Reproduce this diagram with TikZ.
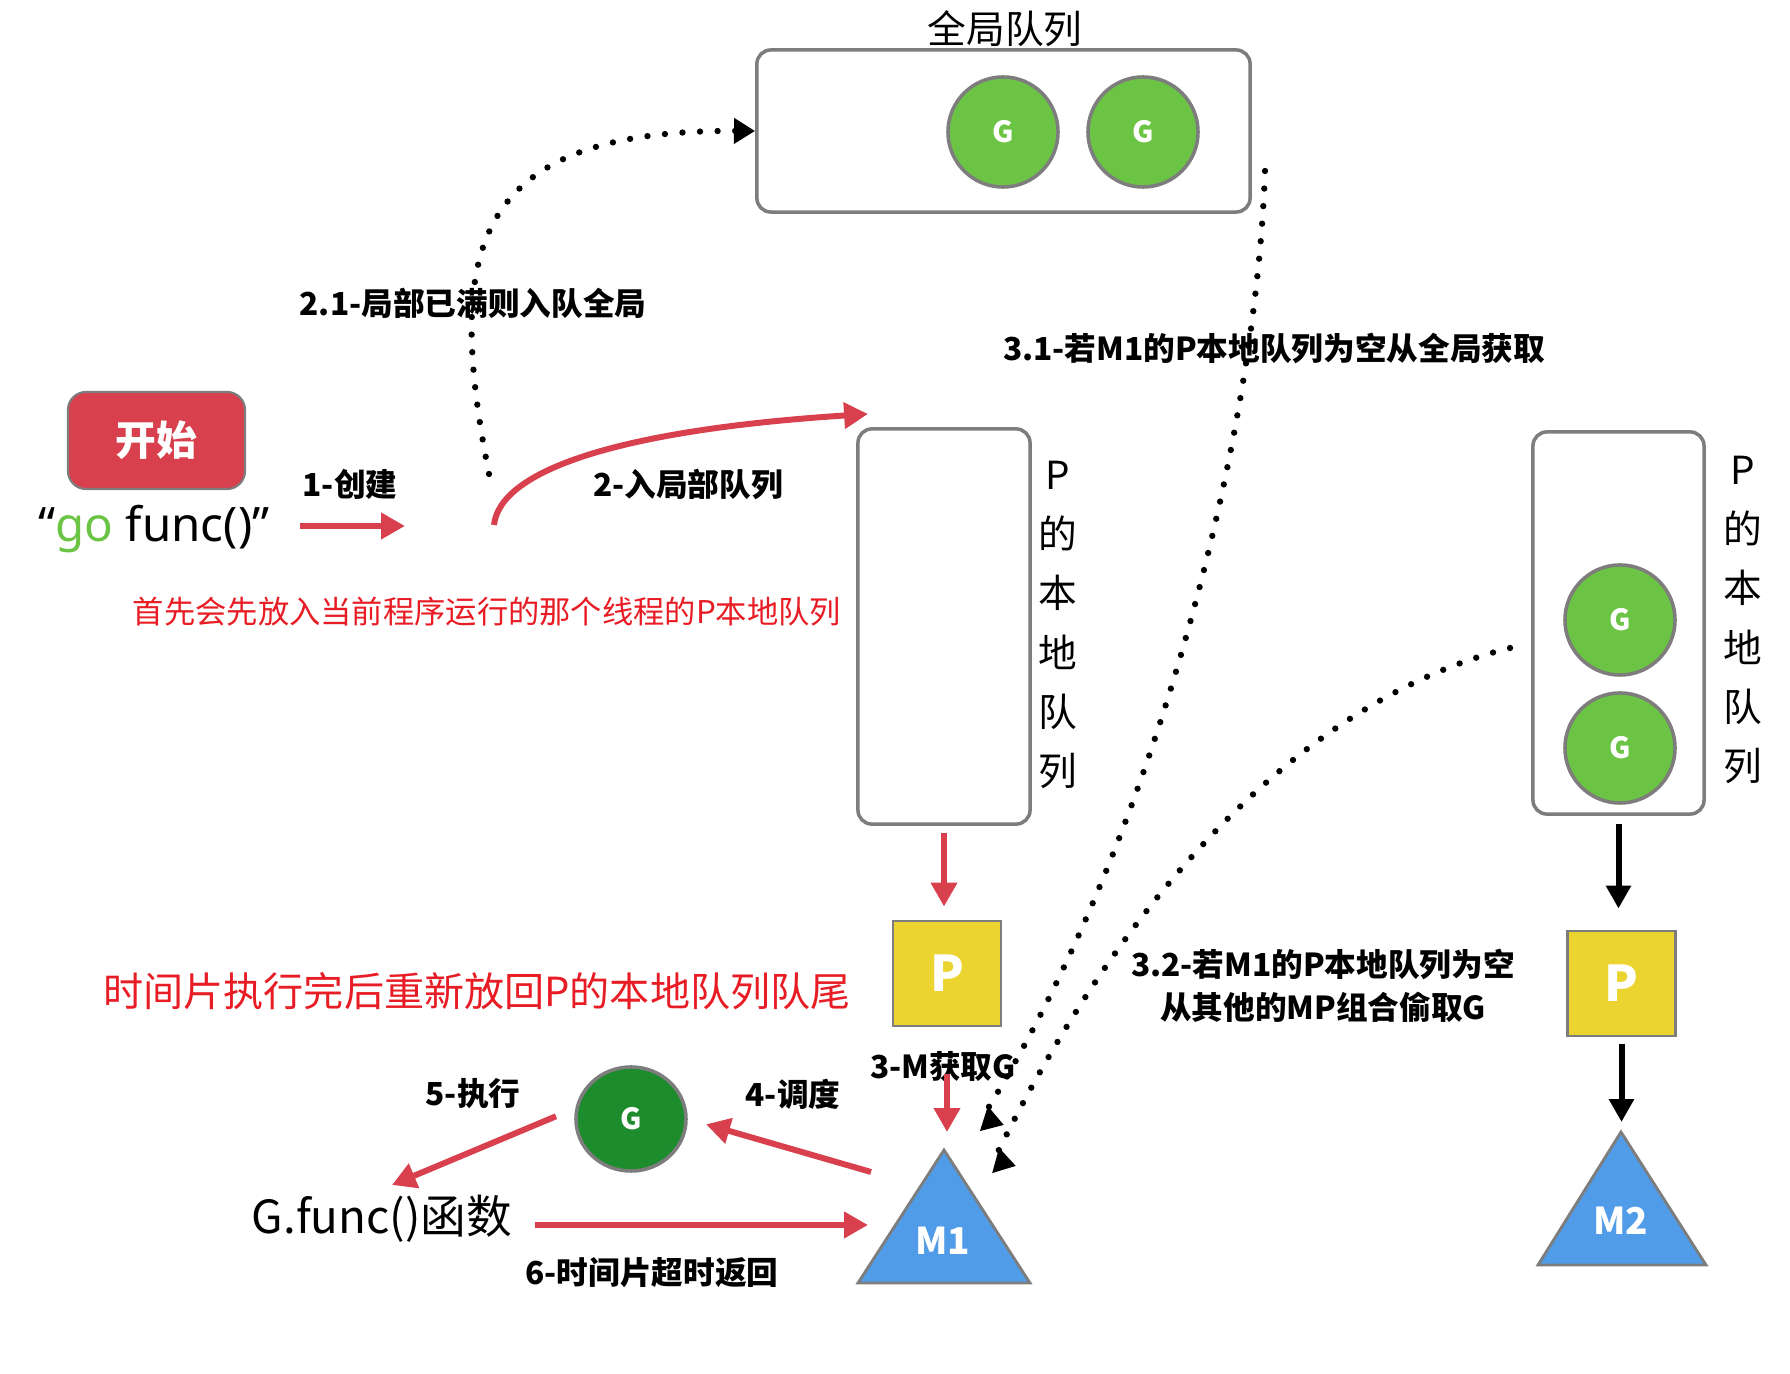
\documentclass[tikz,border=0pt]{standalone}
\usepackage{fontspec}
\setmainfont{Noto Sans CJK SC}
\newfontfamily\codefont{Noto Sans}
\usepackage{tikz}
\usetikzlibrary{positioning,arrows.meta,shapes.geometric}
\definecolor{rouge}{RGB}{216,64,78}
\definecolor{rougetxt}{RGB}{232,28,36}
\definecolor{vertclair}{RGB}{108,196,68}
\definecolor{vertfonce}{RGB}{28,140,44}
\definecolor{jaune}{RGB}{236,212,48}
\definecolor{bleu}{RGB}{80,156,232}
\definecolor{trait}{RGB}{125,125,125}

\begin{document}
\begin{tikzpicture}[x=0.01cm, y=-0.01cm, font=\fontsize{9}{11}\selectfont\bfseries,
  queue/.style={draw=trait, line width=1pt, rounded corners=0.14cm, fill=white},
  gnode/.style={circle, draw=trait, line width=1pt, fill=vertclair, minimum size=1.1cm,
    text=white, font=\fontsize{8.3}{9}\selectfont\bfseries},
  pnode/.style={draw=trait, line width=0.8pt, fill=jaune, minimum width=1.08cm,
    minimum height=1.05cm, text=white, font=\fontsize{14}{15}\selectfont\bfseries},
  mtri/.style={draw=trait, line width=0.8pt, fill=bleu},
  mlab/.style={text=white, font=\fontsize{10.5}{12}\selectfont\bfseries},
  vlab/.style={align=center, font=\fontsize{11}{16.8}\selectfont},
  redarr/.style={draw=rouge, line width=1.7pt, -{Triangle[length=6.8pt,width=7.2pt]}},
  blkarr/.style={draw=black, line width=1.7pt, -{Triangle[length=6.5pt,width=6.8pt]}},
  dotarr/.style={line width=1.8pt, line cap=round, dash pattern=on 0pt off 5pt,
    -{Triangle[length=6pt,width=7pt]}},
  note/.style={text=rougetxt, font=\fontsize{8.9}{10}\selectfont}]
\useasboundingbox (0,0) rectangle (1790,1374);

\node[queue, minimum width=4.93cm, minimum height=1.62cm] (glob) at (1003.5,131) {};
\node[font=\fontsize{11}{13}\selectfont] (globlab) at (1005,29) {全局队列};
\foreach \x [count=\i] in {1003,1143}
  \node[gnode] (gq\i) at (\x,132) {G};

\node[queue, minimum width=1.72cm, minimum height=3.95cm] (lq1) at (944,626.5) {};
\node[vlab] (lq1lab) at (1058,625) {P\\的\\本\\地\\队\\列};
\node[queue, minimum width=1.71cm, minimum height=3.82cm] (lq2) at (1618.5,623) {};
\node[vlab] (lq2lab) at (1743,620) {P\\的\\本\\地\\队\\列};
\foreach \y [count=\i] in {620,748}
  \node[gnode] (lg\i) at (1620,\y) {G};

\node[pnode] (p1) at (947,973.5) {P};
\node[pnode] (p2) at (1621.5,983.5) {P};

\coordinate (m1top) at (944,1150);
\filldraw[mtri] (m1top) -- (1030,1283) -- (858,1283) -- cycle;
\node[mlab] (m1) at (943,1241) {M1};
\coordinate (m2top) at (1621,1132);
\filldraw[mtri] (m2top) -- (1706,1265) -- (1538,1265) -- cycle;
\node[mlab] (m2) at (1621,1221) {M2};

\node[draw=trait, line width=0.6pt, fill=rouge, rounded corners=0.18cm, minimum width=1.77cm,
  minimum height=0.97cm, text=white, font=\fontsize{11.6}{13}\selectfont\bfseries] (start) at (156.5,440.5) {开始};
\node[font=\codefont\fontsize{13.5}{15}\selectfont] (gofunc) at (154,529) {“{\color{vertclair}go} func()”};

\node[ellipse, draw=trait, line width=1pt, fill=vertfonce, minimum width=1.1cm, minimum height=1.04cm,
  text=white, font=\fontsize{8.3}{9}\selectfont\bfseries] (grun) at (631,1119) {G};
\node[font=\fontsize{13}{15}\selectfont] (gfunc) at (382,1219) {G.func()函数};

\node (lab1) at (350,484) {1-创建};
\node (lab2) at (688,484) {2-入局部队列};
\node (lab21) at (473,303) {2.1-局部已满则入队全局};
\node (lab31) at (1274,348) {3.1-若M1的P本地队列为空从全局获取};
\node[align=center, font=\fontsize{9}{12.2}\selectfont\bfseries] (lab32) at (1323,986)
  {3.2-若M1的P本地队列为空\\从其他的MP组合偷取G};
\node (lab3) at (943,1067) {3-M获取G};
\node (lab4) at (793,1094) {4-调度};
\node (lab5) at (473,1094) {5-执行};
\node (lab6) at (652,1273) {6-时间片超时返回};
\node[note] (note1) at (487,612) {首先会先放入当前程序运行的那个线程的P本地队列};
\node[note, font=\fontsize{11.4}{13}\selectfont] (note2) at (477,991) {时间片执行完后重新放回P的本地队列队尾};

\coordinate (c1) at (405,526);
\coordinate (q0) at (494,525);
\coordinate (q1) at (868,414);
\coordinate (d21) at (489,474);
\coordinate (d31) at (1265,171);
\coordinate (d31k) at (982,1118);
\coordinate (d31e) at (1004,1125);
\coordinate (d32) at (1510,648);
\coordinate (d32k) at (994,1160);
\coordinate (d32e) at (1016,1166);
\coordinate (c4) at (871,1172);
\coordinate (c5) at (392,1185);
\coordinate (c6) at (868,1225);

\draw[redarr, shorten <=0.18cm] (gofunc.east |- c1) -- (c1);
\draw[redarr] (q0) .. controls (500,470) and (620,430) .. (q1);
\draw[dotarr] (d21) .. controls (445,250) and (470,130) .. (glob.west);
\draw[dotarr] (d31) .. controls (1255,450) and (1150,850) .. (d31k) -- (d31e);
\draw[dotarr] (d32) .. controls (1300,700) and (1120,900) .. (d32k) -- (d32e);
\draw[redarr, shorten <=0.07cm, shorten >=0.13cm] (lq1.south) -- (lq1.south |- p1.north);
\draw[redarr, shorten <=0.47cm, shorten >=0.18cm] (p1.south) -- (p1.south |- m1top);
\draw[blkarr, shorten <=0.08cm, shorten >=0.21cm] (lq2.south) -- (lq2.south |- p2.north);
\draw[blkarr, shorten <=0.07cm, shorten >=0.1cm] (p2.south) -- (p2.south |- m2top);
\draw[redarr, shorten >=0.19cm] (c4) -- (grun.east);
\draw[redarr, shorten <=0.21cm] (grun.169) -- (c5);
\draw[redarr, shorten <=0.1cm] (gfunc.east |- c6) -- (c6);
\end{tikzpicture}
\end{document}
